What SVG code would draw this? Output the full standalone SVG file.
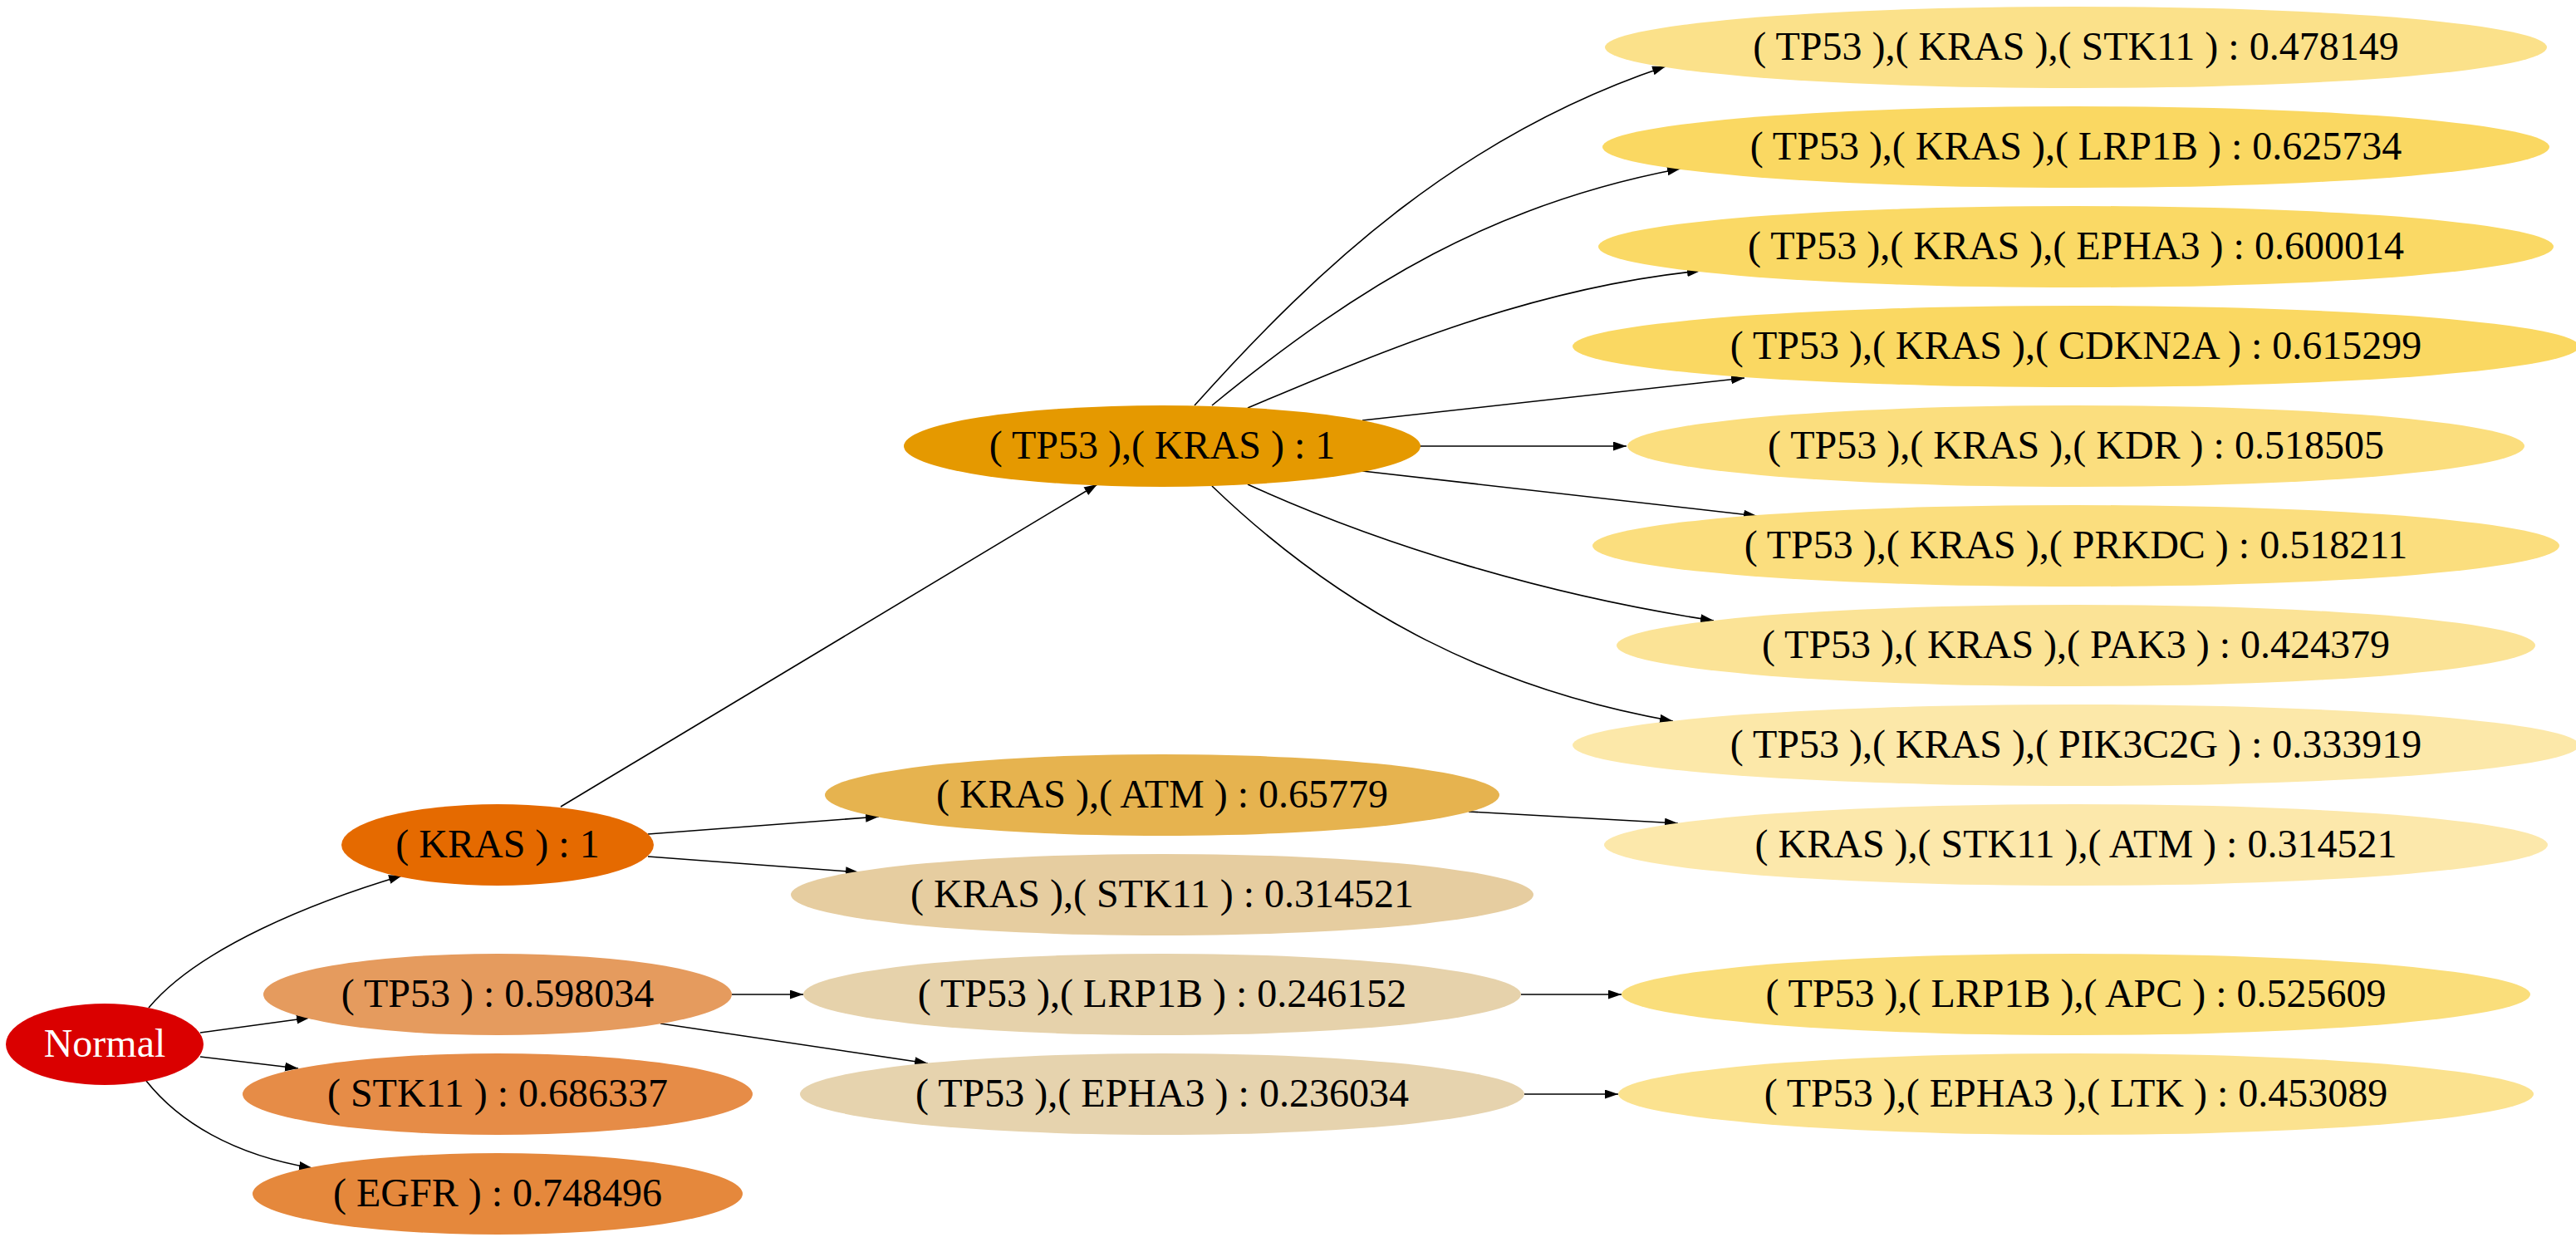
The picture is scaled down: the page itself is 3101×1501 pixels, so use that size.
<svg xmlns="http://www.w3.org/2000/svg" width="3101" height="1501" viewBox="0 0 3101 1501">
<style>
  .n ellipse { stroke: none; }
  .n text { font-family: "Liberation Serif", "Times New Roman", serif; font-size: 48px; text-anchor: middle; fill: #000; }
  #edges path { fill: none; stroke: #000; stroke-width: 1.6; marker-end: url(#arr); }
</style>
<defs>
  <marker id="arr" markerUnits="userSpaceOnUse" markerWidth="17" markerHeight="12" refX="16" refY="5.5" orient="auto">
    <path d="M0,0 L16,5.5 L0,11 z" fill="#000"/>
  </marker>
</defs>
<rect width="3101" height="1501" fill="#fff"/>

<g id="edges">
  <path d="M179,1213 C240,1140 380,1085 484,1054"/>
  <path d="M241,1243 L373,1225"/>
  <path d="M241,1272 L359,1286"/>
  <path d="M176,1301 C215,1350 280,1390 376,1406"/>
  <path d="M675,971 L1321,583"/>
  <path d="M780,1004 L1058,983"/>
  <path d="M780,1031 L1034,1050"/>
  <path d="M881,1197 L967,1197"/>
  <path d="M795,1232 L1117,1280"/>
  <path d="M1438,488 C1590,318 1760,162 2005,80"/>
  <path d="M1459,488 C1640,340 1800,245 2023,203"/>
  <path d="M1502,491 C1672,419 1847,346 2047,326"/>
  <path d="M1640,506 L2100,455"/>
  <path d="M1709,537 L1958,537"/>
  <path d="M1640,567 L2115,621"/>
  <path d="M1502,583 C1662,656 1863,717 2063,747"/>
  <path d="M1459,585 C1620,740 1800,830 2014,868"/>
  <path d="M1768,977 L2020,991"/>
  <path d="M1831,1197 L1952,1197"/>
  <path d="M1835,1317 L1948,1317"/>
</g>

<g id="normal" class="n"><ellipse cx="126" cy="1257" rx="119" ry="49" fill="#da0000"/><text x="126" y="1272" style="fill:#fff">Normal</text></g>

<g id="kras" class="n"><ellipse cx="599" cy="1017" rx="188" ry="49" fill="#e56a00"/><text x="599" y="1032">( KRAS ) : 1</text></g>
<g id="tp53" class="n"><ellipse cx="599" cy="1197" rx="282" ry="49" fill="#e59b5e"/><text x="599" y="1212">( TP53 ) : 0.598034</text></g>
<g id="stk11" class="n"><ellipse cx="599" cy="1317" rx="307" ry="49" fill="#e68c47"/><text x="599" y="1332">( STK11 ) : 0.686337</text></g>
<g id="egfr" class="n"><ellipse cx="599" cy="1437" rx="295" ry="49" fill="#e5883c"/><text x="599" y="1452">( EGFR ) : 0.748496</text></g>

<g id="tp53_kras" class="n"><ellipse cx="1399" cy="537" rx="311" ry="49" fill="#e59900"/><text x="1399" y="552">( TP53 ),( KRAS ) : 1</text></g>
<g id="kras_atm" class="n"><ellipse cx="1399" cy="957" rx="406" ry="49" fill="#e6b34f"/><text x="1399" y="972">( KRAS ),( ATM ) : 0.65779</text></g>
<g id="kras_stk11" class="n"><ellipse cx="1399" cy="1077" rx="447" ry="49" fill="#e6cda0"/><text x="1399" y="1092">( KRAS ),( STK11 ) : 0.314521</text></g>
<g id="tp53_lrp1b" class="n"><ellipse cx="1399" cy="1197" rx="432" ry="49" fill="#e6d2ab"/><text x="1399" y="1212">( TP53 ),( LRP1B ) : 0.246152</text></g>
<g id="tp53_epha3" class="n"><ellipse cx="1399" cy="1317" rx="436" ry="49" fill="#e6d3ae"/><text x="1399" y="1332">( TP53 ),( EPHA3 ) : 0.236034</text></g>

<g id="tp53_kras_stk11" class="n"><ellipse cx="2499" cy="57" rx="567" ry="49" fill="#fbe18a"/><text x="2499" y="72">( TP53 ),( KRAS ),( STK11 ) : 0.478149</text></g>
<g id="tp53_kras_lrp1b" class="n"><ellipse cx="2499" cy="177" rx="570" ry="49" fill="#fad862"/><text x="2499" y="192">( TP53 ),( KRAS ),( LRP1B ) : 0.625734</text></g>
<g id="tp53_kras_epha3" class="n"><ellipse cx="2499" cy="297" rx="575" ry="49" fill="#fad965"/><text x="2499" y="312">( TP53 ),( KRAS ),( EPHA3 ) : 0.600014</text></g>
<g id="tp53_kras_cdkn2a" class="n"><ellipse cx="2499" cy="417" rx="606" ry="49" fill="#fad862"/><text x="2499" y="432">( TP53 ),( KRAS ),( CDKN2A ) : 0.615299</text></g>
<g id="tp53_kras_kdr" class="n"><ellipse cx="2499" cy="537" rx="540" ry="49" fill="#fbde7e"/><text x="2499" y="552">( TP53 ),( KRAS ),( KDR ) : 0.518505</text></g>
<g id="tp53_kras_prkdc" class="n"><ellipse cx="2499" cy="657" rx="582" ry="49" fill="#fbde7e"/><text x="2499" y="672">( TP53 ),( KRAS ),( PRKDC ) : 0.518211</text></g>
<g id="tp53_kras_pak3" class="n"><ellipse cx="2499" cy="777" rx="553" ry="49" fill="#fbe396"/><text x="2499" y="792">( TP53 ),( KRAS ),( PAK3 ) : 0.424379</text></g>
<g id="tp53_kras_pik3c2g" class="n"><ellipse cx="2499" cy="897" rx="606" ry="49" fill="#fce8a9"/><text x="2499" y="912">( TP53 ),( KRAS ),( PIK3C2G ) : 0.333919</text></g>
<g id="kras_stk11_atm" class="n"><ellipse cx="2499" cy="1017" rx="568" ry="49" fill="#fce8ab"/><text x="2499" y="1032">( KRAS ),( STK11 ),( ATM ) : 0.314521</text></g>
<g id="tp53_lrp1b_apc" class="n"><ellipse cx="2499" cy="1197" rx="547" ry="49" fill="#fade7b"/><text x="2499" y="1212">( TP53 ),( LRP1B ),( APC ) : 0.525609</text></g>
<g id="tp53_epha3_ltk" class="n"><ellipse cx="2499" cy="1317" rx="551" ry="49" fill="#fbe28f"/><text x="2499" y="1332">( TP53 ),( EPHA3 ),( LTK ) : 0.453089</text></g>
</svg>
